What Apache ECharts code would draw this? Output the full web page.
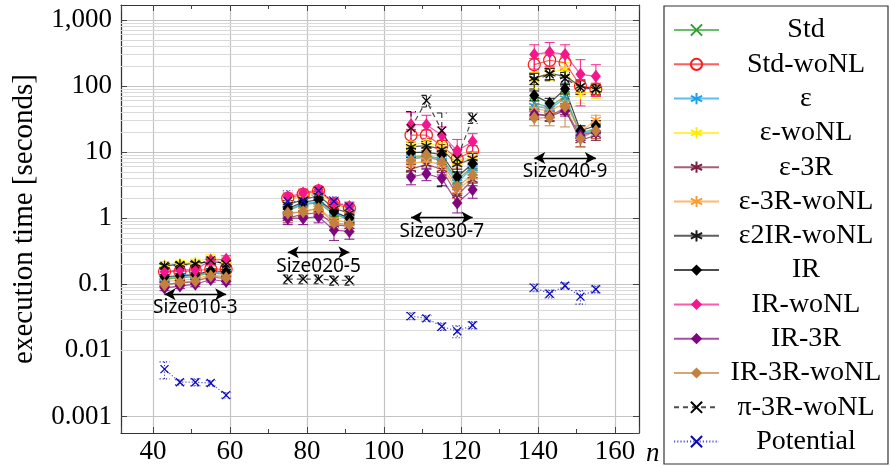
<!DOCTYPE html>
<html>
<head>
<meta charset="utf-8">
<script src="https://cdn.jsdelivr.net/npm/echarts@6/dist/echarts.min.js"></script>
<style>
  html, body { margin: 0; padding: 0; background: #fff; }
  #chart { width: 890px; height: 467px; }
</style>
</head>
<body>
<div id="chart"></div>
<script>
// Problem sizes n, grouped by instance family (each group is drawn as its own polyline)
const sizeGroups = [
  [43, 47, 51, 55, 59],
  [75, 79, 83, 87, 91],
  [107, 111, 115, 119, 123],
  [139, 143, 147, 151, 155]
];

// Mean execution times [s] and error half-widths, 5 points per group
const stdTimes = [0.12, 0.125, 0.13, 0.15, 0.14, 1.3, 1.6, 1.7, 1.15, 0.95, 8.5, 8.8, 8.0, 3.8, 6.0, 55, 48, 70, 19, 23];
const stdErr = [0.01, 0.01, 0.01, 0.012, 0.012, 0.15, 0.2, 0.2, 0.15, 0.12, 1.2, 1.2, 1.1, 0.6, 0.8, 10, 8, 12, 3, 4];

const stdWoNLTimes = [0.155, 0.155, 0.16, 0.17, 0.17, 2.0, 2.3, 2.6, 1.65, 1.4, 18, 18, 12.5, 7.9, 10.5, 210, 245, 225, 100, 90];
const stdWoNLErr = [0.015, 0.015, 0.015, 0.02, 0.02, 0.25, 0.3, 0.3, 0.25, 0.2, 4, 3.5, 2.5, 1.5, 2, 50, 60, 50, 25, 20];

const epsTimes = [0.125, 0.13, 0.135, 0.155, 0.145, 1.35, 1.65, 1.8, 1.2, 1.0, 8, 8.3, 7.5, 3.5, 5.7, 50, 45, 65, 18, 22];
const epsErr = [0.01, 0.01, 0.01, 0.012, 0.012, 0.15, 0.2, 0.2, 0.15, 0.12, 1.2, 1.2, 1.1, 0.6, 0.8, 9, 8, 11, 3, 4];

const epsWoNLTimes = [0.2, 0.21, 0.22, 0.25, 0.23, 1.9, 2.2, 2.5, 1.6, 1.35, 13, 14, 12, 7, 8.5, 125, 160, 180, 75, 85];
const epsWoNLErr = [0.02, 0.02, 0.02, 0.03, 0.025, 0.25, 0.3, 0.3, 0.2, 0.18, 2.5, 2.5, 2, 1.2, 1.5, 35, 40, 45, 20, 20];

const eps3RTimes = [0.1, 0.105, 0.11, 0.13, 0.12, 1.0, 1.15, 1.2, 0.8, 0.75, 5.5, 6.5, 5.5, 2.2, 3.8, 38, 36, 45, 15, 18];
const eps3RErr = [0.008, 0.008, 0.008, 0.01, 0.01, 0.15, 0.15, 0.15, 0.15, 0.12, 1, 1, 1, 0.5, 0.7, 6, 6, 8, 3, 3];

const eps3RWoNLTimes = [0.11, 0.115, 0.12, 0.14, 0.13, 1.1, 1.3, 1.4, 0.95, 0.85, 6.5, 7.5, 6.3, 2.6, 4.2, 45, 42, 55, 20, 31];
const eps3RWoNLErr = [0.009, 0.009, 0.009, 0.011, 0.011, 0.15, 0.18, 0.18, 0.15, 0.12, 1.2, 1.2, 1.1, 0.6, 0.8, 8, 8, 10, 4, 5];

const eps2IRWoNLTimes = [0.19, 0.2, 0.205, 0.22, 0.21, 1.6, 1.9, 2.2, 1.4, 1.2, 12, 12.5, 11, 6.5, 8, 130, 155, 140, 100, 88];
const eps2IRWoNLErr = [0.015, 0.015, 0.015, 0.02, 0.02, 0.25, 0.25, 0.3, 0.2, 0.18, 2, 2, 2, 1, 1.5, 25, 30, 30, 20, 15];

const irTimes = [0.13, 0.135, 0.14, 0.16, 0.155, 1.4, 1.75, 1.9, 1.25, 1.0, 9.8, 10, 9.1, 4.2, 6.7, 72, 55, 90, 21, 25];
const irErr = [0.01, 0.01, 0.01, 0.012, 0.012, 0.2, 0.2, 0.2, 0.2, 0.15, 1.5, 1.5, 1.5, 0.8, 1.0, 12, 10, 15, 4, 5];

const irWoNLTimes = [0.155, 0.165, 0.165, 0.23, 0.24, 2.1, 2.4, 2.7, 1.7, 1.5, 26, 26, 18, 10.5, 14.5, 300, 325, 300, 150, 140];
const irWoNLErr = [0.02, 0.02, 0.02, 0.03, 0.03, 0.3, 0.35, 0.3, 0.3, 0.25, 14, 10, 6, 5, 4.5, 120, 130, 120, 100, 70];

const ir3RTimes = [0.088, 0.094, 0.1, 0.118, 0.11, 1.0, 1.0, 1.05, 0.66, 0.63, 4.2, 4.7, 4.0, 1.7, 2.7, 37, 35, 42, 18, 20];
const ir3RErr = [0.008, 0.008, 0.008, 0.01, 0.01, 0.2, 0.2, 0.2, 0.2, 0.15, 1, 1, 0.9, 0.5, 0.7, 6, 6, 7, 3, 4];

const ir3RWoNLTimes = [0.098, 0.106, 0.112, 0.133, 0.126, 1.2, 1.25, 1.4, 0.85, 0.8, 7.5, 9.1, 7.1, 3.0, 4.5, 33, 33, 49, 16, 21];
const ir3RWoNLErr = [0.008, 0.008, 0.008, 0.01, 0.01, 0.2, 0.25, 0.25, 0.2, 0.2, 1.5, 1.5, 1.5, 0.7, 1.0, 8, 8, 25, 4, 5];

const pi3RWoNLTimes = [0.19, 0.195, 0.2, 0.23, 0.2, 0.12, 0.12, 0.12, 0.115, 0.115, 23, 60, 21, 8, 33, 120, 150, 130, 95, 90];
const pi3RWoNLErr = [0.015, 0.015, 0.015, 0.02, 0.015, 0.018, 0.018, 0.018, 0.018, 0.018, 18, 12, 18, 3, 6, 30, 30, 30, 20, 15];

const potentialTimes = [0.0052, 0.0033, 0.0033, 0.0032, 0.0021, 1.8, 1.8, 2.6, 1.8, 1.5, 0.033, 0.0305, 0.023, 0.0195, 0.024, 0.089, 0.072, 0.095, 0.065, 0.084];
const potentialErr = [0.0015, 0.0003, 0.0004, 0.0003, 0.0002, 0.8, 0.3, 0.3, 0.3, 0.2, 0.004, 0.003, 0.003, 0.004, 0.003, 0.012, 0.01, 0.01, 0.015, 0.01];

// Instance family annotations: label, arrow span in n, arrow level, label position
const familyLabels = ['Size010-3', 'Size020-5', 'Size030-7', 'Size040-9'];
const arrowSpans = [[43, 59], [75, 91], [107, 123], [139, 155]];
const arrowLevels = [0.0708, 0.305, 1.02, 8.13];
const labelAnchors = [[51, 0.0447], [83, 0.188], [115, 0.63], [147, 5.0]];

// Y-axis tick labels, from 10^-3 up to 10^3
const yTickLabels = ['0.001', '0.01', '0.1', '1', '10', '100', '1,000'];

const X_MIN = 31.7, X_MAX = 166.2;
const Y_MIN = 0.000562, Y_MAX = 1679;

const SERIF = 'Liberation Serif';
const X_PATH = 'path://M0,0L10,10M0,10L10,0';
const AST_PATH = 'path://M5,0L5,10M0.67,2.5L9.33,7.5M0.67,7.5L9.33,2.5';

const specs = [
  { name: 'Std', t: stdTimes, e: stdErr, color: '#2ca02c', symbol: X_PATH, size: 8, kind: 'stroke' },
  { name: 'Std-woNL', t: stdWoNLTimes, e: stdWoNLErr, color: '#ff1a1a', symbol: 'circle', size: 12, kind: 'open' },
  { name: 'ε', t: epsTimes, e: epsErr, color: '#1aa3e8', symbol: AST_PATH, size: 10, kind: 'stroke' },
  { name: 'ε-woNL', t: epsWoNLTimes, e: epsWoNLErr, color: '#ffec00', symbol: AST_PATH, size: 10, kind: 'stroke' },
  { name: 'ε-3R', t: eps3RTimes, e: eps3RErr, color: '#7d1f3f', symbol: AST_PATH, size: 10, kind: 'stroke' },
  { name: 'ε-3R-woNL', t: eps3RWoNLTimes, e: eps3RWoNLErr, color: '#ff9a2e', symbol: AST_PATH, size: 10, kind: 'stroke' },
  { name: 'ε2IR-woNL', t: eps2IRWoNLTimes, e: eps2IRWoNLErr, color: '#1a1a1a', symbol: AST_PATH, size: 10, kind: 'stroke' },
  { name: 'IR', t: irTimes, e: irErr, color: '#000000', symbol: 'diamond', size: [10, 13], kind: 'fill' },
  { name: 'IR-woNL', t: irWoNLTimes, e: irWoNLErr, color: '#f5168e', symbol: 'diamond', size: [10, 13], kind: 'fill' },
  { name: 'IR-3R', t: ir3RTimes, e: ir3RErr, color: '#7f067f', symbol: 'diamond', size: [10, 13], kind: 'fill' },
  { name: 'IR-3R-woNL', t: ir3RWoNLTimes, e: ir3RWoNLErr, color: '#c3803f', symbol: 'diamond', size: [10, 13], kind: 'fill' },
  { name: 'π-3R-woNL', t: pi3RWoNLTimes, e: pi3RWoNLErr, color: '#000000', symbol: X_PATH, size: 8, kind: 'stroke', dash: [5, 4] },
  { name: 'Potential', t: potentialTimes, e: potentialErr, color: '#0a0ab4', symbol: X_PATH, size: 8, kind: 'stroke', dash: [1.2, 2] }
];

// Line data: one polyline per size group, separated by empty points
function lineData(values) {
  const out = [];
  let k = 0;
  sizeGroups.forEach(group => {
    group.forEach(n => { out.push([n, values[k]]); k++; });
    out.push([group[group.length - 1] + 1, '-']);
  });
  return out;
}

function errorData(values, errs) {
  const out = [];
  let k = 0;
  sizeGroups.forEach(group => {
    group.forEach(n => {
      out.push([n, values[k] - errs[k], values[k] + errs[k]]);
      k++;
    });
  });
  return out;
}

function errorSeries(spec) {
  const style = {
    stroke: spec.color,
    lineWidth: 1.1,
    lineDash: spec.dash || null,
    opacity: 0.85
  };
  return {
    type: 'custom',
    name: spec.name + ' (error)',
    silent: true,
    z: 3,
    clip: true,
    encode: { x: 0, y: [1, 2] },
    data: errorData(spec.t, spec.e),
    renderItem(params, api) {
      const x = api.value(0);
      const lo = Math.max(api.value(1), Y_MIN);
      const hi = api.value(2);
      const top = api.coord([x, hi]);
      const bot = api.coord([x, lo]);
      const w = 5;
      return {
        type: 'group',
        children: [
          { type: 'line', shape: { x1: top[0], y1: top[1], x2: bot[0], y2: bot[1] }, style },
          { type: 'line', shape: { x1: top[0] - w, y1: top[1], x2: top[0] + w, y2: top[1] }, style },
          { type: 'line', shape: { x1: bot[0] - w, y1: bot[1], x2: bot[0] + w, y2: bot[1] }, style }
        ]
      };
    }
  };
}

function lineSeries(spec) {
  let itemStyle;
  if (spec.kind === 'fill') itemStyle = { color: spec.color, borderWidth: 0 };
  else if (spec.kind === 'open') itemStyle = { color: 'rgba(255,255,255,0)', borderColor: spec.color, borderWidth: 1.2 };
  else itemStyle = { color: spec.color, borderColor: spec.color, borderWidth: 1.3 };
  return {
    type: 'line',
    name: spec.name,
    data: lineData(spec.t),
    symbol: spec.symbol,
    symbolSize: spec.size,
    showSymbol: true,
    connectNulls: false,
    z: 4,
    lineStyle: { color: spec.color, width: 1.2, opacity: 0.7, type: spec.dash || 'solid' },
    itemStyle,
    emphasis: { disabled: true }
  };
}

// Minor grid values of the log axis: 2..9 × 10^k
const minorGridValues = [];
for (let k = -4; k <= 3; k++) {
  for (let m = 2; m <= 9; m++) {
    const v = m * Math.pow(10, k);
    if (v > Y_MIN && v < Y_MAX) minorGridValues.push(v);
  }
}

const series = [];
specs.forEach(s => { series.push(errorSeries(s)); series.push(lineSeries(s)); });

// Minor grid of the log axis
series.unshift({
  type: 'line',
  name: '__minorgrid',
  data: [],
  silent: true,
  markLine: {
    silent: true,
    symbol: 'none',
    z: 1,
    animation: false,
    label: { show: false },
    lineStyle: { color: '#d9d9d9', width: 1, type: 'solid' },
    data: minorGridValues.map(v => ({ yAxis: v }))
  }
});
// Instance family arrows and names
series.push({
  type: 'line',
  name: '__families',
  data: [],
  silent: true,
  z: 6,
  markLine: {
    silent: true,
    z: 6,
    symbol: ['arrow', 'arrow'],
    symbolSize: [9, 11],
    animation: false,
    label: { show: false },
    lineStyle: { color: '#000', width: 1.4, type: 'solid' },
    data: arrowSpans.map((span, i) => [
      { coord: [span[0], arrowLevels[i]] },
      { coord: [span[1], arrowLevels[i]] }
    ])
  },
  markPoint: {
    silent: true,
    z: 6,
    symbol: 'rect',
    symbolSize: 0,
    animation: false,
    label: {
      show: true,
      position: 'inside',
      formatter: '{b}',
      fontFamily: 'Noto Sans',
      fontSize: 19,
      color: '#000'
    },
    data: familyLabels.map((name, i) => ({ name, coord: labelAnchors[i] }))
  }
});

function formatY(v) {
  const lg = Math.log10(v);
  const exp = Math.round(lg);
  const idx = exp + 3;
  if (Math.abs(lg - exp) < 1e-6 && idx >= 0 && idx < yTickLabels.length) return yTickLabels[idx];
  return '';
}

const axisLineStyle = { color: '#333', width: 1.2 };
const tickStyle = { color: '#444', width: 1 };

const option = {
  animation: false,
  backgroundColor: '#fff',
  textStyle: { fontFamily: SERIF },
  grid: { left: 121, right: 251, top: 5, bottom: 30 },
  xAxis: [
    {
      type: 'value', min: X_MIN, max: X_MAX, splitNumber: 6, position: 'bottom',
      axisLine: { show: true, onZero: false, lineStyle: axisLineStyle },
      axisTick: { show: true, inside: true, length: 6, lineStyle: tickStyle },
      minorTick: { show: true, splitNumber: 2, length: 4, lineStyle: tickStyle },
      axisLabel: { showMinLabel: false, showMaxLabel: false, fontFamily: SERIF, fontSize: 27, color: '#000', margin: 5 },
      splitLine: { show: true, lineStyle: { color: '#c4c4c4', width: 1.2 } },
      name: 'n', nameLocation: 'end', nameGap: 7,
      nameTextStyle: { fontFamily: SERIF, fontStyle: 'italic', fontSize: 27, color: '#000', verticalAlign: 'top', lineHeight: 27, padding: [7, 0, 0, 0] }
    },
    {
      type: 'value', min: X_MIN, max: X_MAX, splitNumber: 6, position: 'top',
      axisLine: { show: true, onZero: false, lineStyle: axisLineStyle },
      axisTick: { show: true, inside: true, length: 6, lineStyle: tickStyle },
      minorTick: { show: true, splitNumber: 2, length: 4, lineStyle: tickStyle },
      axisLabel: { show: false },
      splitLine: { show: false }
    }
  ],
  yAxis: [
    {
      type: 'log', logBase: 10, min: Y_MIN, max: Y_MAX, position: 'left',
      axisLine: { show: true, onZero: false, lineStyle: axisLineStyle },
      axisTick: { show: true, inside: true, length: 6, lineStyle: tickStyle },
      axisLabel: { showMinLabel: false, showMaxLabel: false, fontFamily: SERIF, fontSize: 27, color: '#000', margin: 9, formatter: formatY },
      splitLine: { show: true, lineStyle: { color: '#c4c4c4', width: 1.2 } },
      name: 'execution time [seconds]', nameLocation: 'middle', nameGap: 82,
      nameTextStyle: { fontFamily: SERIF, fontSize: 29, color: '#000' }
    },
    {
      type: 'log', logBase: 10, min: Y_MIN, max: Y_MAX, position: 'right',
      axisLine: { show: true, onZero: false, lineStyle: axisLineStyle },
      axisTick: { show: true, inside: true, length: 6, lineStyle: tickStyle },
      axisLabel: { show: false },
      splitLine: { show: false }
    }
  ],
  legend: {
    orient: 'vertical',
    left: 673,
    top: 15,
    padding: 0,
    itemGap: 4.3,
    itemWidth: 45,
    itemHeight: 14,
    selectedMode: false,
    data: specs.map(s => s.name),
    formatter: name => '{c|' + name + '}',
    textStyle: {
      fontFamily: SERIF, fontSize: 28, color: '#000', lineHeight: 30,
      rich: { c: { width: 164, align: 'center', fontFamily: SERIF, fontSize: 28, lineHeight: 30, color: '#000' } }
    }
  },
  graphic: [
    {
      type: 'rect',
      shape: { x: 664, y: 6, width: 224, height: 458 },
      style: { fill: 'none', stroke: '#333', lineWidth: 1.2 },
      silent: true,
      z: 10
    }
  ],
  series
};

const chart = echarts.init(document.getElementById('chart'), null, { renderer: 'canvas' });
chart.setOption(option);
</script>
</body>
</html>
